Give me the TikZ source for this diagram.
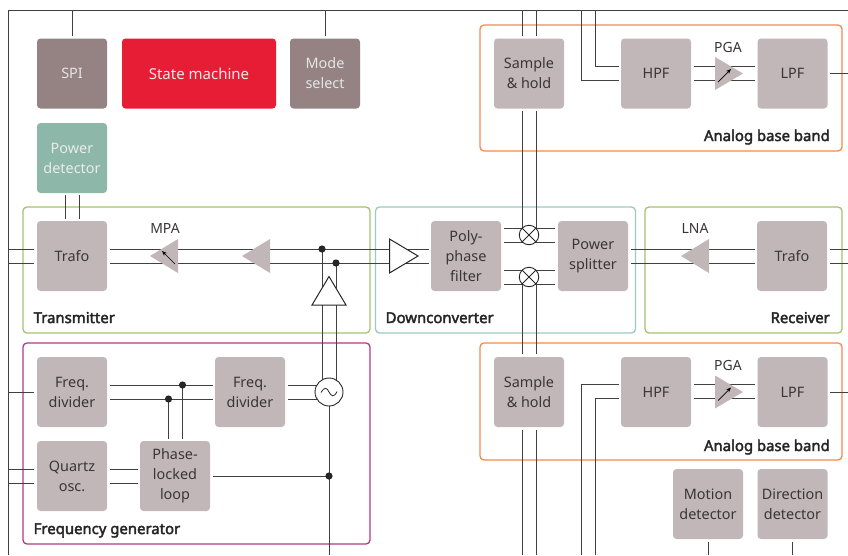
\documentclass[tikz,border=0pt]{standalone}
\usepackage{fontspec}
\usetikzlibrary{arrows.meta}
\setmainfont[AutoFakeBold=2.6]{Noto Sans}
\definecolor{blk}{HTML}{C1B7B8}
\definecolor{brn}{HTML}{958283}
\definecolor{rd}{HTML}{E71D36}
\definecolor{teal}{HTML}{8DB7A9}
\definecolor{txt}{HTML}{3A3536}
\definecolor{wire}{HTML}{404040}
\definecolor{grn}{HTML}{A4C46E}
\definecolor{cy}{HTML}{9CC9C0}
\definecolor{org}{HTML}{F58A4B}
\definecolor{mag}{HTML}{B03A8C}
\tikzset{x=1pt,y=-1pt,
  blockbox/.style={rectangle,rounded corners=3.5pt,fill=blk,text=txt,minimum width=70pt,minimum height=70pt,inner sep=0pt,outer sep=0pt,align=center,font=\fontsize{14.4}{20}\selectfont},
  wirel/.style={draw=wire,line width=1pt},
  groupbox/.style={rectangle,rounded corners=4pt,line width=1.3pt,fill=none,inner sep=0pt,outer sep=0pt,anchor=north west},
  grouplabel/.style={inner sep=0pt,text=black!85,font=\fontsize{14.9}{17}\selectfont\bfseries},
  amp/.style={fill=blk,draw=none},
  lab/.style={inner sep=0pt,text=txt,font=\fontsize{14}{17}\selectfont}}
\begin{document}
\begin{tikzpicture}
\useasboundingbox (0,0) rectangle (848,555);
\fill[white] (0,0) rectangle (848,555);
% outer frame
\coordinate (fTL) at (8.5,10.5); \coordinate (fTR) at (848,10.5); \coordinate (fBL) at (8.5,555);
\draw[wirel] (fBL) -- (fTL) -- (fTR);
% groups
\node[groupbox,draw=grn,minimum width=347pt,minimum height=126pt] (gTx) at (23,207) {};
\node[groupbox,draw=cy,minimum width=260pt,minimum height=126pt] (gDc) at (375.5,207) {};
\node[groupbox,draw=grn,minimum width=197pt,minimum height=126pt] (gRx) at (645,207) {};
\node[groupbox,draw=org,minimum width=362pt,minimum height=126pt] (gAb1) at (480,25) {};
\node[groupbox,draw=org,minimum width=362pt,minimum height=117pt] (gAb2) at (480,343) {};
\node[groupbox,draw=mag,minimum width=347pt,minimum height=201pt] (gFg) at (23,343) {};
\node[grouplabel,anchor=base west] at (33.5,323) {Transmitter};
\node[grouplabel,anchor=base west] at (385.5,323) {Downconverter};
\node[grouplabel,anchor=base east] at (830,323) {Receiver};
\node[grouplabel,anchor=base east] at (830,141) {Analog base band};
\node[grouplabel,anchor=base east] at (830,451) {Analog base band};
\node[grouplabel,anchor=base west] at (33.5,534) {Frequency generator};
% wires first
\foreach \y in {249,263}{
  \draw[wirel] (8.5,\y) -- (34,\y);
  \draw[wirel] (110,\y) -- (429,\y);
  \draw[wirel] (631,\y) -- (755,\y);
  \draw[wirel] (830,\y) -- (848,\y);
}
\foreach \y in {228,242,270,284} \draw[wirel] (504,\y) -- (555,\y);
\foreach \x in {522.3,536.3}{
  \draw[wirel] (\x,10.5) -- (\x,36);
  \draw[wirel] (\x,111) -- (\x,235);
  \draw[wirel] (\x,277) -- (\x,354);
  \draw[wirel] (\x,430) -- (\x,555);
}
\draw[wirel] (595.7,10.5) |- (619,66.5);
\draw[wirel] (581.5,10.5) |- (619,80.5);
\draw[wirel] (581.5,555) |- (619,384.7);
\draw[wirel] (595.7,555) |- (619,398.7);
\foreach \y in {66.5,80.5,384.7,398.7} \draw[wirel] (694,\y) -- (755,\y);
\draw[wirel] (830,73.5) -- (848,73.5);
\draw[wirel] (830,392) -- (848,392);
\draw[wirel] (72,10.5) -- (72,36);
\draw[wirel] (325,10.5) -- (325,36);
\draw[wirel] (65,195) -- (65,218.5);
\draw[wirel] (79,195) -- (79,218.5);
\draw[wirel] (708,541.5) -- (708,555);
\draw[wirel] (792,541.5) -- (792,555);
% freq gen wiring
\draw[wirel] (8.5,392) -- (34,392);
\foreach \y in {385,399}{ \draw[wirel] (110,\y) -- (212.5,\y); \draw[wirel] (288,\y) -- (318,\y); }
\foreach \y in {469,483}{ \draw[wirel] (8.5,\y) -- (34,\y); \draw[wirel] (110,\y) -- (137.5,\y); }
\draw[wirel] (168.5,399) -- (168.5,439);
\draw[wirel] (182.5,385) -- (182.5,439);
\draw[wirel] (213,476) -- (329,476);
\draw[wirel] (329,392) -- (329,555);
\draw[wirel] (322,249) -- (322,385);
\draw[wirel] (336,263) -- (336,385);
% blocks
\node[blockbox,fill=brn,text=white!90!black] (spi) at (72,73.5) {SPI};
\node[blockbox,fill=rd,text=white!92!black,minimum width=154pt,font=\fontsize{15}{20}\selectfont] (sm) at (199,73.5) {State machine};
\node[blockbox,fill=brn,text=white!90!black] (mode) at (325,73.5) {Mode\\select};
\node[blockbox,fill=teal,text=white!92!black] (pd) at (72,158) {Power\\detector};
\node[blockbox] (tf1) at (72,256) {Trafo};
\node[blockbox,text=txt] (poly) at (466,256) {Poly-\\phase\\filter};
\node[blockbox] (ps) at (593,256) {Power\\splitter};
\node[blockbox] (tf2) at (792,256) {Trafo};
\node[blockbox] (sh1) at (529,73.5) {Sample\\\& hold};
\node[blockbox] (hpf1) at (656,73.5) {HPF};
\node[blockbox] (lpf1) at (792.5,73.5) {LPF};
\node[blockbox] (sh2) at (529,392) {Sample\\\& hold};
\node[blockbox] (hpf2) at (656,392) {HPF};
\node[blockbox] (lpf2) at (792.5,392) {LPF};
\node[blockbox] (md) at (708,504) {Motion\\detector};
\node[blockbox] (dd) at (792.5,504) {Direction\\detector};
\node[blockbox] (fd1) at (72,392) {Freq.\\divider};
\node[blockbox] (fd2) at (250,392) {Freq.\\divider};
\node[blockbox] (qo) at (72,476) {Quartz\\osc.};
\node[blockbox] (pll) at (175,476) {Phase-\\locked\\loop};
% amps
\fill[amp] (150,256) -- (178,239) -- (178,273) -- cycle;
\fill[amp] (242,256) -- (270,239) -- (270,273) -- cycle;
\fill[amp] (681,256) -- (709,239) -- (709,273) -- cycle;
\fill[amp] (743,73.5) -- (715,57) -- (715,90) -- cycle;
\fill[amp] (743,392) -- (715,375.5) -- (715,408.5) -- cycle;
\draw[draw=black,line width=.7pt,-{Stealth[length=5pt,width=4pt]}] (175,264) -- (162,251);
\draw[draw=black,line width=.7pt,-{Stealth[length=5pt,width=4pt]}] (718,82) -- (731,69);
\draw[draw=black,line width=.7pt,-{Stealth[length=5pt,width=4pt]}] (718,400.5) -- (731,387.5);
\draw[fill=white,draw=black!85,line width=1pt] (389.5,239) -- (418,256) -- (389.5,273) -- cycle;
\draw[fill=white,draw=black!85,line width=1pt] (329,276.5) -- (346,305) -- (312,305) -- cycle;
\fill[black!85] (322,249) circle (3.6pt) (336,263) circle (3.6pt) (182.5,385) circle (3.6pt) (168.5,399) circle (3.6pt) (329,476) circle (3.6pt);
% oscillator
\node[circle,draw=black!85,fill=white,line width=.9pt,minimum size=28pt,inner sep=0pt,outer sep=0pt] (osc) at (329,392) {};
\draw[black!85,line width=.8pt] (321,392.5) .. controls (325,386) and (327,388) .. (329,392) .. controls (331,396) and (334,398) .. (337,391.5);
% mixers
\foreach \y [count=\i] in {235,277}{
  \node[circle,draw=black!85,fill=white,line width=.9pt,minimum size=19.5pt,inner sep=0pt,outer sep=0pt] (mx\i) at (529,\y) {};
  \draw[black!85,line width=.9pt] (mx\i.north west) -- (mx\i.south east) (mx\i.north east) -- (mx\i.south west);
}
% labels
\node[lab] at (165,228) {MPA};
\node[lab] at (695,228) {LNA};
\node[lab] at (728,47) {PGA};
\node[lab] at (728,365) {PGA};
\end{tikzpicture}
\end{document}
